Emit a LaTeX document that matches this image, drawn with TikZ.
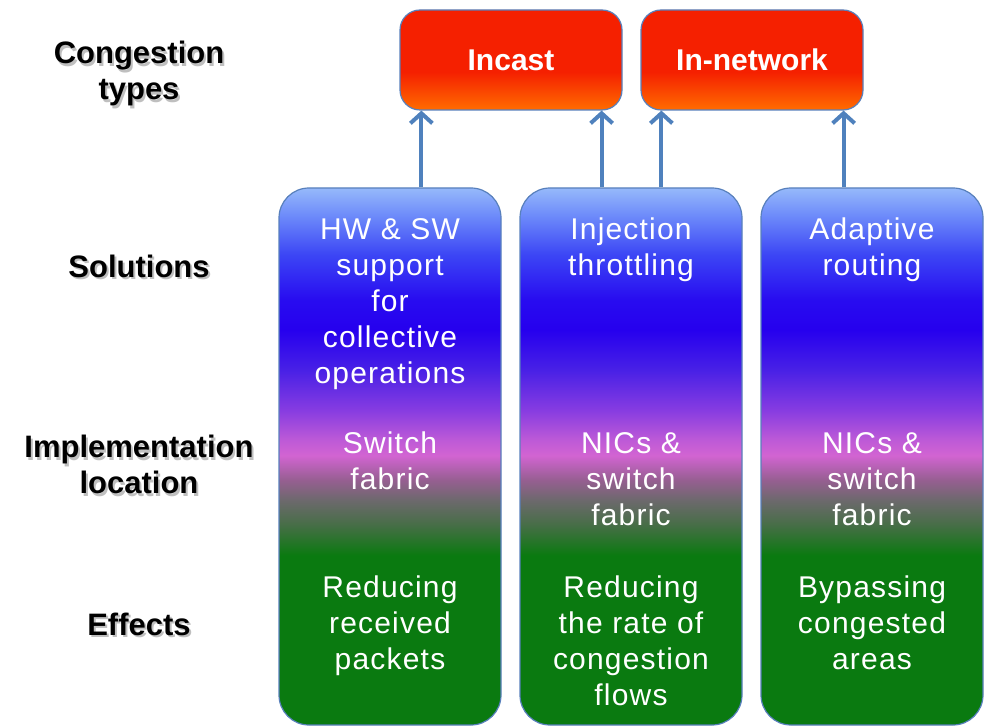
\documentclass[tikz,border=0pt]{standalone}
\usepackage{fontspec}
\setmainfont{Liberation Sans}
\newfontfamily\coltextfont[LetterSpace=4]{Liberation Sans}
\usetikzlibrary{arrows.meta}

% palette
\definecolor{arrowblue}{RGB}{79,129,189}
\definecolor{edgeblue}{RGB}{88,128,188}
\definecolor{redtop}{RGB}{245,32,0}
\definecolor{orangebot}{RGB}{255,108,0}
\definecolor{clight}{RGB}{150,185,250}
\definecolor{clighttwo}{RGB}{110,140,250}
\definecolor{cmid}{RGB}{60,70,245}
\definecolor{cbluetwo}{RGB}{40,12,240}
\definecolor{cblue}{RGB}{38,0,238}
\definecolor{cviol}{RGB}{72,32,230}
\definecolor{cpurp}{RGB}{135,60,225}
\definecolor{cpinktwo}{RGB}{190,90,215}
\definecolor{cpink}{RGB}{210,100,210}
\definecolor{cmauve}{RGB}{150,95,145}
\definecolor{cgray}{RGB}{108,105,108}
\definecolor{cgreentwo}{RGB}{70,110,70}
\definecolor{cgreen}{RGB}{10,122,16}

% column gradient (path box maps to 25bp..75bp)
\pgfdeclareverticalshading{colshade}{100bp}{%
  color(0bp)=(cgreen); color(25bp)=(cgreen); color(40.8bp)=(cgreen);
  color(43.6bp)=(cgreentwo); color(45.9bp)=(cgray); color(47.8bp)=(cmauve);
  color(50.1bp)=(cpink); color(51.5bp)=(cpinktwo); color(54.3bp)=(cpurp);
  color(58.1bp)=(cviol); color(61.8bp)=(cblue); color(64.6bp)=(cbluetwo);
  color(68.8bp)=(cmid); color(72.5bp)=(clighttwo); color(75bp)=(clight);
  color(100bp)=(clight)}

% red-to-orange gradient of the congestion type boxes
\pgfdeclareverticalshading{redshade}{100bp}{%
  color(0bp)=(orangebot); color(25bp)=(orangebot); color(44bp)=(redtop);
  color(75bp)=(redtop); color(100bp)=(redtop)}

\tikzset{
  typebox/.style={rounded corners=20pt, minimum width=222pt, minimum height=100pt,
    draw=edgeblue, line width=1.2pt, shade, shading=redshade, text=white,
    font=\bfseries\fontsize{30}{36}\selectfont, inner sep=0pt},
  colbox/.style={rounded corners=30pt, minimum width=222pt, minimum height=537pt,
    draw=edgeblue, line width=1.2pt, shade, shading=colshade, inner sep=0pt},
  coltxt/.style={anchor=north, inner sep=0pt, align=center, text=white,
    font=\coltextfont\fontsize{30}{36}\selectfont, execute at begin node={\rule{0pt}{25pt}}},
  lbl/.style={anchor=north, inner sep=0pt, align=center, text=black,
    font=\bfseries\fontsize{31}{36}\selectfont, execute at begin node={\rule{0pt}{25pt}}},
  lblshadow/.style={lbl, text=black, opacity=0.25},
  arr/.style={draw=arrowblue, line width=4pt,
    -{Straight Barb[length=10pt, width=22pt]}},
}

\begin{document}
\begin{tikzpicture}[x=1pt, y=-1pt]
  \useasboundingbox (0,0) rectangle (986,727);

  % row labels (soft shadow first)
  \node[lblshadow] (lab1s) at (141,43.5) {Congestion\\types};
  \node[lblshadow] (lab2s) at (141,254.5) {Solutions};
  \node[lblshadow] (lab3s) at (141,437.5) {Implementation\\location};
  \node[lblshadow] (lab4s) at (141,612.5) {Effects};
  \node[lbl] (lab1) at (139,41) {Congestion\\types};
  \node[lbl] (lab2) at (139,252) {Solutions};
  \node[lbl] (lab3) at (139,435) {Implementation\\location};
  \node[lbl] (lab4) at (139,610) {Effects};

  % congestion types
  \node[typebox] (inc) at (511,60) {Incast};
  \node[typebox] (innet) at (752,60) {In-network};

  % solution columns
  \node[colbox] (col1) at (390,456.5) {};
  \node[colbox] (col2) at (631,456.5) {};
  \node[colbox] (col3) at (872,456.5) {};

  % column texts
  \node[coltxt] (sol1) at (390,218) {HW \& SW\\support\\for\\collective\\operations};
  \node[coltxt] (sol2) at (631,218) {Injection\\throttling};
  \node[coltxt] (sol3) at (872,218) {Adaptive\\routing};

  \node[coltxt] (loc1) at (390,432) {Switch\\fabric};
  \node[coltxt] (loc2) at (631,432) {NICs \&\\switch\\fabric};
  \node[coltxt] (loc3) at (872,432) {NICs \&\\switch\\fabric};

  \node[coltxt] (eff1) at (390,576) {Reducing\\received\\packets};
  \node[coltxt] (eff2) at (631,576) {Reducing\\the rate of\\congestion\\flows};
  \node[coltxt] (eff3) at (872,576) {Bypassing\\congested\\areas};

  % arrows from solutions up to the congestion types
  \coordinate (t1) at ([xshift=22pt]inc.south west);
  \coordinate (t2) at ([xshift=-21pt]inc.south east);
  \coordinate (t3) at ([xshift=21pt]innet.south west);
  \coordinate (t4) at ([xshift=-20pt]innet.south east);
  \draw[arr] (t1 |- col1.north) -- (t1);
  \draw[arr] (t2 |- col2.north) -- (t2);
  \draw[arr] (t3 |- col2.north) -- (t3);
  \draw[arr] (t4 |- col3.north) -- (t4);
\end{tikzpicture}
\end{document}
